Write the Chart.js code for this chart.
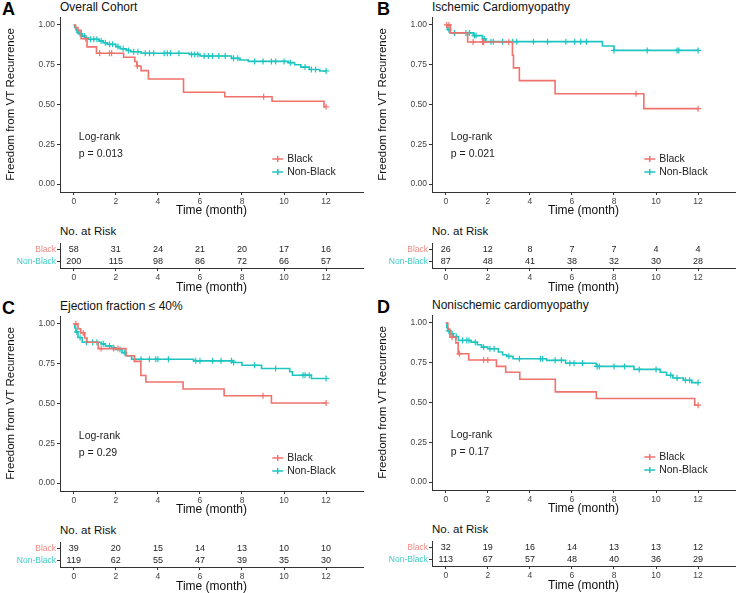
<!DOCTYPE html>
<html>
<head>
<meta charset="utf-8">
<script src="https://cdn.jsdelivr.net/npm/chart.js@4"></script>
<style>
  body { margin: 0; background: #fff; width: 740px; height: 593px; overflow: hidden; position: relative; font-family: "Liberation Sans", Arial, sans-serif; }
  canvas { position: absolute; }
  .lbl { position: absolute; white-space: nowrap; color: #111; line-height: 14px; }
  .letter { position: absolute; font-weight: bold; font-size: 18px; line-height: 18px; color: #000; }
</style>
</head>
<body>
<script>
// shared axis ticks and groups
const xTicks = [0, 2, 4, 6, 8, 10, 12];
const yTicks = [0, 0.25, 0.5, 0.75, 1];
const groups = ["Black", "Non-Black"];
const colors = ["#F0726C", "#1EC5C0"];

// A: Overall Cohort
const aBlackTime = [0, 0.08, 0.2, 0.35, 0.63, 1.08, 2.37, 2.9, 3.0, 3.2, 3.55, 5.22, 7.18, 9.43, 11.9];
const aBlackSurv = [1, 0.983, 0.966, 0.914, 0.862, 0.822, 0.797, 0.77, 0.742, 0.713, 0.66, 0.577, 0.549, 0.52, 0.486];
const aBlackCens = [0.57, 1.23, 1.7, 1.8, 3.02, 9.03, 12];
const aNonTime = [0, 0.05, 0.1, 0.15, 0.25, 0.4, 0.55, 0.7, 1.2, 1.4, 1.6, 2.0, 2.2, 2.5, 2.7, 3.2, 5.5, 6.0, 7.5, 7.9, 8.3, 10.2, 10.5, 10.8, 11.2, 11.7];
const aNonSurv = [1, 0.985, 0.97, 0.955, 0.945, 0.93, 0.92, 0.91, 0.9, 0.888, 0.878, 0.864, 0.85, 0.84, 0.832, 0.822, 0.815, 0.805, 0.79, 0.78, 0.771, 0.763, 0.75, 0.735, 0.72, 0.711];
const aNonCens = [0.3, 0.5, 0.8, 0.95, 1.1, 1.3, 1.5, 1.7, 1.85, 2.1, 2.35, 2.6, 2.85, 3.05, 3.4, 3.6, 3.8, 4.3, 4.45, 4.6, 5.0, 5.6, 5.75, 5.9, 6.2, 6.4, 6.6, 6.9, 7.2, 7.6, 7.8, 8.6, 9.0, 9.4, 9.6, 10.0, 10.3, 11.0, 11.3, 11.5, 12];
const aRiskBlack = [58, 31, 24, 21, 20, 17, 16];
const aRiskNon = [200, 115, 98, 86, 72, 66, 57];

// B: Ischemic Cardiomyopathy
const bBlackTime = [0, 0.22, 1.04, 3.17, 3.22, 3.5, 5.2, 9.42];
const bBlackSurv = [1, 0.95, 0.893, 0.81, 0.73, 0.65, 0.568, 0.474];
const bBlackCens = [0.05, 0.15, 1.3, 1.75, 1.8, 3.0, 9.05, 12];
const bNonTime = [0, 0.05, 0.1, 0.2, 1.31, 1.75, 1.9, 7.45, 8.0];
const bNonSurv = [1, 0.985, 0.97, 0.95, 0.933, 0.912, 0.895, 0.868, 0.84];
const bNonCens = [0.15, 0.41, 0.96, 1.12, 1.36, 1.44, 1.83, 2.15, 2.26, 2.7, 3.18, 3.38, 4.17, 4.84, 5.71, 6.13, 6.42, 6.69, 8.0, 9.58, 11.0, 11.08, 12];
const bRiskBlack = [26, 12, 8, 7, 7, 4, 4];
const bRiskNon = [87, 48, 41, 38, 32, 30, 28];

// C: Ejection fraction <= 40%
const cBlackTime = [0, 0.2, 0.33, 0.52, 0.63, 1.16, 2.48, 2.88, 3.19, 3.43, 5.2, 7.15, 9.4];
const cBlackSurv = [1, 0.97, 0.943, 0.912, 0.885, 0.845, 0.8, 0.765, 0.676, 0.635, 0.591, 0.549, 0.503];
const cBlackCens = [0.1, 0.45, 1.3, 1.9, 2.1, 9.0, 12];
const cNonTime = [0, 0.05, 0.1, 0.2, 0.4, 1.3, 1.5, 1.8, 2.0, 2.3, 2.5, 2.75, 5.7, 7.6, 8.0, 8.93, 10.27, 10.4, 11.3];
const cNonSurv = [1, 0.975, 0.95, 0.915, 0.885, 0.875, 0.862, 0.85, 0.84, 0.82, 0.8, 0.778, 0.768, 0.758, 0.74, 0.72, 0.7, 0.678, 0.657];
const cNonCens = [0.15, 0.3, 0.6, 0.9, 1.1, 1.4, 1.7, 1.9, 2.2, 2.4, 2.9, 3.2, 3.6, 3.9, 4.0, 4.5, 5.8, 6.0, 6.6, 7.0, 7.5, 7.6, 8.6, 9.6, 10.9, 11.0, 11.2, 12];
const cRiskBlack = [39, 20, 15, 14, 13, 10, 10];
const cRiskNon = [119, 62, 55, 47, 39, 35, 30];

// D: Nonischemic cardiomyopathy
const dBlackTime = [0, 0.1, 0.2, 0.48, 0.59, 1.09, 2.41, 2.85, 3.52, 5.21, 7.16, 11.84];
const dBlackSurv = [1, 0.96, 0.91, 0.875, 0.806, 0.767, 0.727, 0.69, 0.646, 0.567, 0.525, 0.483];
const dBlackCens = [0.3, 0.65, 1.8, 2.0, 12];
const dNonTime = [0, 0.05, 0.1, 0.2, 0.35, 0.6, 1.2, 1.5, 1.7, 2.0, 2.5, 2.7, 2.9, 3.2, 4.8, 5.7, 7.15, 8.95, 10.2, 10.5, 10.8, 11.3, 11.7];
const dNonSurv = [1, 0.97, 0.95, 0.933, 0.915, 0.89, 0.879, 0.863, 0.848, 0.838, 0.817, 0.8, 0.79, 0.775, 0.765, 0.747, 0.727, 0.708, 0.69, 0.671, 0.654, 0.64, 0.625];
const dNonCens = [0.15, 0.3, 0.5, 0.8, 1.0, 1.1, 1.4, 1.8, 2.1, 2.3, 3.0, 3.5, 4.5, 4.6, 5.2, 5.5, 5.9, 6.1, 6.5, 7.2, 7.3, 8.0, 8.5, 9.2, 10.0, 10.7, 11.0, 11.4, 11.6, 12];
const dRiskBlack = [32, 19, 16, 14, 13, 13, 12];
const dRiskNon = [113, 67, 57, 48, 40, 36, 29];

const panels = [
  { letter: "A", dx: 0, dy: 0, title: "Overall Cohort", pval: "0.013",
    curves: [[aBlackTime, aBlackSurv, aBlackCens], [aNonTime, aNonSurv, aNonCens]], risk: [aRiskBlack, aRiskNon] },
  { letter: "B", dx: 372, dy: 0, title: "Ischemic Cardiomyopathy", pval: "0.021",
    curves: [[bBlackTime, bBlackSurv, bBlackCens], [bNonTime, bNonSurv, bNonCens]], risk: [bRiskBlack, bRiskNon] },
  { letter: "C", dx: 0, dy: 299, title: "Ejection fraction \u2264 40%", pval: "0.29",
    curves: [[cBlackTime, cBlackSurv, cBlackCens], [cNonTime, cNonSurv, cNonCens]], risk: [cRiskBlack, cRiskNon] },
  { letter: "D", dx: 372, dy: 298, title: "Nonischemic cardiomyopathy", pval: "0.17",
    curves: [[dBlackTime, dBlackSurv, dBlackCens], [dNonTime, dNonSurv, dNonCens]], risk: [dRiskBlack, dRiskNon] }
];

const FONT = "Liberation Sans";
const AXIS = "#333";
const XMIN = -0.655, XMAX = 13.755;

function stepAt(times, surv, t) {
  let v = surv[0];
  for (let i = 0; i < times.length; i++) if (times[i] <= t) v = surv[i];
  return v;
}

function addDiv(cls, text, left, top, style) {
  const d = document.createElement("div");
  d.className = cls;
  d.textContent = text;
  d.style.left = left + "px";
  d.style.top = top + "px";
  Object.assign(d.style, style || {});
  document.body.appendChild(d);
}

function addCanvas(left, top, w, h) {
  const c = document.createElement("canvas");
  c.width = w; c.height = h;
  c.style.left = left + "px"; c.style.top = top + "px";
  c.style.width = w + "px"; c.style.height = h + "px";
  document.body.appendChild(c);
  return c;
}

const xAxis = (h) => ({
  type: "linear", min: XMIN, max: XMAX,
  afterBuildTicks: s => { s.ticks = xTicks.map(v => ({ value: v })); },
  afterFit: s => { s.height = h; },
  grid: { display: true, drawOnChartArea: false, drawTicks: true, tickLength: 3, color: AXIS },
  border: { display: true, color: AXIS, width: 1 },
  ticks: { padding: 2, color: "#444", font: { family: FONT, size: 8.5 }, maxRotation: 0 },
  title: { display: true, text: "Time (month)", color: "#111", font: { family: FONT, size: 12 }, padding: 0 }
});

// text inside the survival plot: log-rank note and legend
const kmText = {
  id: "kmText",
  afterDraw(chart, args, o) {
    const { ctx, scales: { x, y } } = chart;
    ctx.save();
    ctx.font = "10.5px " + FONT;
    ctx.textBaseline = "middle";
    ctx.fillStyle = "#222";
    ctx.fillText("Log-rank", x.getPixelForValue(0.24), y.getPixelForValue(0.296));
    ctx.fillText("p = " + o.pval, x.getPixelForValue(0.24), y.getPixelForValue(0.189));
    groups.forEach((g, i) => {
      const yy = y.getPixelForValue(0.157 - i * 0.082);
      const x0 = x.getPixelForValue(9.44), x1 = x.getPixelForValue(9.96);
      const xm = (x0 + x1) / 2;
      ctx.strokeStyle = colors[i];
      ctx.lineWidth = 1.5;
      ctx.beginPath();
      ctx.moveTo(x0, yy); ctx.lineTo(x1, yy);
      ctx.moveTo(xm, yy - 3); ctx.lineTo(xm, yy + 3);
      ctx.stroke();
      ctx.fillStyle = "#222";
      ctx.fillText(g, x.getPixelForValue(10.15), yy);
    });
    ctx.restore();
  }
};

// numbers at risk drawn at each point of the table datasets
const riskText = {
  id: "riskText",
  afterDatasetsDraw(chart) {
    const ctx = chart.ctx;
    ctx.save();
    ctx.font = "9px " + FONT;
    ctx.fillStyle = "#222";
    ctx.textAlign = "center";
    ctx.textBaseline = "middle";
    chart.data.datasets.forEach((ds, i) => {
      chart.getDatasetMeta(i).data.forEach((pt, j) => {
        ctx.fillText(String(ds.counts[j]), pt.x, pt.y);
      });
    });
    ctx.restore();
  }
};

panels.forEach(p => {
  addDiv("letter", p.letter, p.dx + (p.letter === "B" || p.letter === "D" ? 5 : 2), p.dy);
  addDiv("lbl", p.title, p.dx + 60, p.dy, { fontSize: "12px" });
  addDiv("lbl", "No. at Risk", p.dx + 60, p.dy + 224, { fontSize: "11.5px" });

  const datasets = [];
  p.curves.forEach(([t, s, c], i) => {
    const end = Math.max(...c);
    const pts = t.map((v, k) => ({ x: v, y: s[k] }));
    pts.push({ x: end, y: s[s.length - 1] });
    datasets.push({ type: "line", label: groups[i], data: pts, borderColor: colors[i], borderWidth: 1.6,
      pointRadius: 0, stepped: "before", fill: false });
    datasets.push({ type: "scatter", label: groups[i] + " censored", data: c.map(v => ({ x: v, y: stepAt(t, s, v) })),
      pointStyle: "cross", pointRadius: 3, borderColor: colors[i], borderWidth: 1.2, showLine: false });
  });

  new Chart(addCanvas(p.dx, p.dy, 370, 218), {
    type: "scatter",
    data: { datasets },
    options: {
      responsive: false, animation: false, events: [],
      layout: { padding: { top: 17, right: 7, left: 0, bottom: 0 } },
      plugins: { legend: { display: false }, tooltip: { enabled: false }, kmText: { pval: p.pval } },
      scales: {
        x: xAxis(26),
        y: {
          type: "linear", min: -0.05, max: 1.05,
          afterBuildTicks: s => { s.ticks = yTicks.map(v => ({ value: v })); },
          afterFit: s => { s.width = 60; },
          grid: { display: true, drawOnChartArea: false, drawTicks: true, tickLength: 3, color: AXIS },
          border: { display: true, color: AXIS, width: 1 },
          ticks: { padding: 2, color: "#444", font: { family: FONT, size: 8.5 }, callback: v => v.toFixed(2) },
          title: { display: true, text: "Freedom from VT Recurrence", color: "#111", font: { family: FONT, size: 11.5 }, padding: { top: 4, bottom: 0 } }
        }
      }
    },
    plugins: [kmText]
  });

  new Chart(addCanvas(p.dx, p.dy + 236, 370, 59), {
    type: "scatter",
    data: {
      datasets: groups.map((g, i) => ({
        label: g, counts: p.risk[i], pointRadius: 0,
        data: xTicks.map(t => ({ x: t, y: g }))
      }))
    },
    options: {
      responsive: false, animation: false, events: [],
      layout: { padding: { top: 7, right: 7, left: 0, bottom: 0 } },
      plugins: { legend: { display: false }, tooltip: { enabled: false } },
      scales: {
        x: xAxis(27),
        y: {
          type: "category", labels: groups, offset: true,
          afterFit: s => { s.width = 60; },
          grid: { display: true, drawOnChartArea: false, drawTicks: true, tickLength: 3, color: AXIS, offset: false },
          border: { display: true, color: AXIS, width: 1 },
          ticks: { padding: 1, autoSkip: false, font: { family: FONT, size: 8.5 },
            color: ctx => ["#F08A84", "#3FCBC6"][ctx.index] }
        }
      }
    },
    plugins: [riskText]
  });
});
</script>
</body>
</html>
